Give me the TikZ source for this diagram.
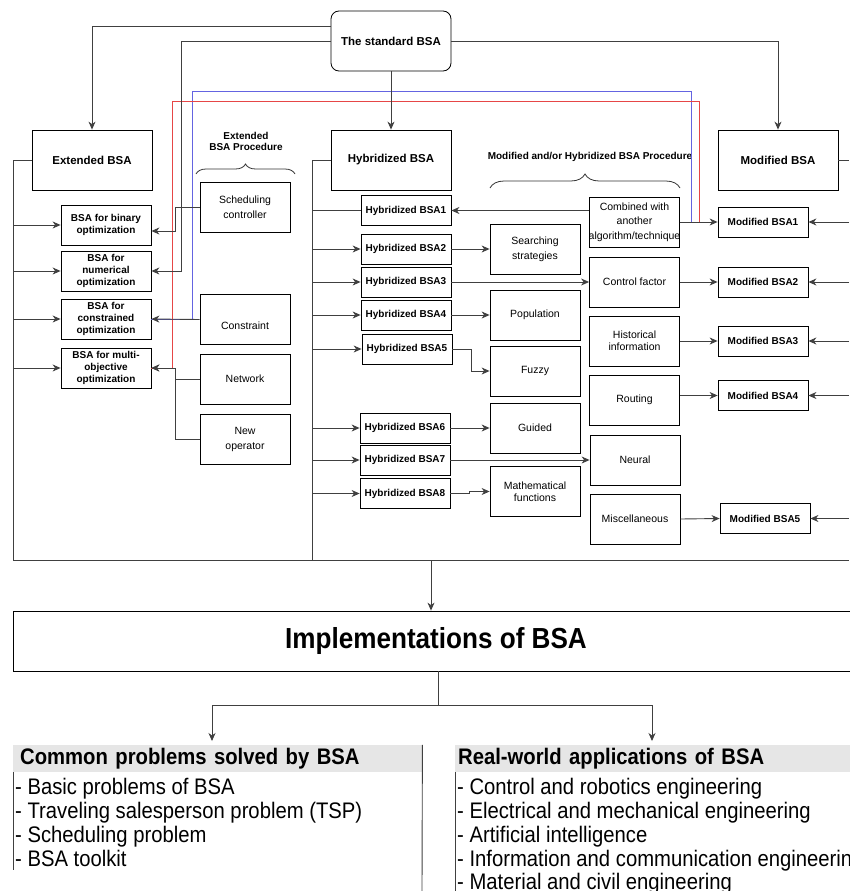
\documentclass[tikz,border=0pt]{standalone}
\usepackage{fontspec}
\setmainfont{Liberation Sans}
\newfontfamily\narrowfont[FakeStretch=0.9]{Liberation Sans}
\usetikzlibrary{arrows.meta,decorations.pathreplacing,calc}
\definecolor{blueC}{RGB}{100,100,225}
\definecolor{redC}{RGB}{230,70,70}
\definecolor{hdr}{RGB}{230,230,230}
\begin{document}
\begin{tikzpicture}[x=1pt,y=-1pt,
  bx/.style={draw=black, line width=0.8pt, inner sep=0pt, align=center},
  bigbox/.style={bx, minimum width=120pt, minimum height=60pt, font=\fontsize{11.5}{14}\selectfont\bfseries},
  sbox/.style={bx, minimum width=90pt, minimum height=30pt, font=\fontsize{10}{12}\selectfont\bfseries},
  ebox/.style={bx, minimum width=90pt, minimum height=40pt, font=\fontsize{10}{11.7}\selectfont\bfseries},
  pbox/.style={bx, minimum width=90pt, minimum height=50pt, font=\fontsize{10.5}{15}\selectfont},
  pboxt/.style={pbox, font=\fontsize{10.5}{12}\selectfont},
  con/.style={draw=black!75, line width=0.9pt},
  arr/.style={con, -{Stealth[length=8pt,width=7pt,inset=2.5pt]}},
  lbl/.style={font=\fontsize{10}{11}\selectfont\bfseries, align=center, inner sep=0pt},
  btxt/.style={font=\narrowfont\fontsize{22.5}{27}\selectfont, anchor=base west, inner sep=0pt},
  hbox/.style={fill=hdr, anchor=west, minimum height=27pt, inner ysep=0pt, align=left, font=\narrowfont\fontsize{22.5}{27}\selectfont\bfseries},
  brc/.style={draw=black!80, line width=0.8pt, decorate}
]
\useasboundingbox (0,0) rectangle (849,891);

% frame coordinates
\coordinate (LF) at (13,0);
\coordinate (MF) at (312,0);
\coordinate (RE) at (849,0);
\coordinate (BL) at (13,560);
\coordinate (BR) at (849,560);
\coordinate (MB) at (312,560);
\coordinate (FB) at (431,560);
\coordinate (bT) at (691,91);
\coordinate (rT) at (699,101);

% top level boxes
\node[bigbox, rounded corners=8pt] (std) at (391,41) {The standard BSA};
\node[bigbox] (ext) at (92,160) {Extended BSA};
\node[bigbox] (hyb) at (391,160) {Hybridized BSA};
\node[bigbox] (mod) at (778,160) {Modified BSA};

% extended BSA items
\node[ebox] (e1) at (106,225) {BSA for binary\\optimization};
\node[ebox] (e2) at (106,271) {BSA for\\numerical\\optimization};
\node[ebox] (e3) at (106,319) {BSA for\\constrained\\optimization};
\node[ebox] (e4) at (106,368) {BSA for multi-\\objective\\optimization};

% extended BSA procedure
\node[lbl] (extlbl) at (246,141) {Extended\\BSA Procedure};
\draw[brc, decoration={brace,amplitude=10pt}] (196,174) -- (295,174);
\node[pbox] (sc) at (245,207) {Scheduling\\controller};
\node[pbox] (cn) at (245,319.5) {};
\node[font=\fontsize{10.5}{12}\selectfont, inner sep=0pt] (cntxt) at (245,326) {Constraint};
\node[pbox] (nw) at (245,379) {Network};
\node[pbox] (no) at (245,439) {New\\operator};

% hybridized
\node[sbox] (h1) at (406,210.5) {Hybridized BSA1};
\node[sbox] (h2) at (406,249) {Hybridized BSA2};
\node[sbox] (h3) at (406,282) {Hybridized BSA3};
\node[sbox] (h4) at (406,315) {Hybridized BSA4};
\node[sbox] (h5) at (407,349) {Hybridized BSA5};
\node[sbox] (h6) at (405,428) {Hybridized BSA6};
\node[sbox] (h7) at (405,460) {Hybridized BSA7};
\node[sbox] (h8) at (405,493.5) {Hybridized BSA8};

% modified and/or hybridized procedure
\node[lbl] (mhlbl) at (590,157) {Modified and/or Hybridized BSA Procedure};
\draw[brc, decoration={brace,amplitude=14pt}] (490,188) -- (680,188);
\node[pbox] (ss) at (535,249) {Searching\\strategies};
\node[pbox] (pp) at (535,315) {Population};
\node[pbox] (fz) at (535,371) {Fuzzy};
\node[pbox] (gd) at (535,428) {Guided};
\node[pboxt] (mf) at (535,491.5) {Mathematical\\functions};

\node[pbox, font=\fontsize{10.5}{14.5}\selectfont] (cb) at (634.5,222) {Combined with\\another\\\makebox[0pt]{algorithm/technique}};
\node[pbox] (cf) at (634.5,282) {Control factor};
\node[pboxt] (hi) at (634.5,341) {Historical\\information};
\node[pbox] (ro) at (634.5,400) {Routing};
\node[pbox] (ne) at (635,460) {Neural};
\node[pbox] (mi) at (635,519) {Miscellaneous};

% modified
\node[sbox] (m1) at (763,222) {Modified BSA1};
\node[sbox] (m2) at (763,282) {Modified BSA2};
\node[sbox] (m3) at (763,341) {Modified BSA3};
\node[sbox] (m4) at (763,395.5) {Modified BSA4};
\node[sbox] (m5) at (765,518.5) {Modified BSA5};

% coloured connectors
\draw[blueC, line width=1pt] (cb.east) -| (bT) -| ($(e3.east)+(41,0)$) -- (e3.east);
\draw[redC, line width=1pt] (cb.east) -| (rT) -| ($(e4.east)+(21,0)$) -- (e4.east);

% frames
\draw[con] (ext.west) -| (BL) -- (BR);
\draw[con] (hyb.west) -| (MB);
\draw[con] (mod.east) -- (mod.east -| RE);

% standard BSA connectors
\draw[arr] ([yshift=15pt]std.west) -| (ext.north);
\draw[arr] (std.west) -- ++(-149,0) |- (e2.east);
\draw[arr] (std.south) -- (hyb.north);
\draw[arr] (std.east) -| (mod.north);

% extended
\draw[arr] (LF|-e1.west) -- (e1.west);
\draw[arr] (LF|-e2.west) -- (e2.west);
\draw[arr] (LF|-e3.west) -- (e3.west);
\draw[arr] (LF|-e4.west) -- (e4.west);
\draw[arr] (sc.west) -- ++(-24,0) |- ([yshift=-6pt]e1.east);
\draw[arr] (cn.west) -- (e3.east);
\draw[arr] (nw.west) -- ++(-24,0) |- (e4.east);
\draw[arr] (no.west) -- ++(-24,0) |- (e4.east);

% hybridized
\draw[con] (MF|-h1.west) -- (h1.west);
\draw[arr] (MF|-h2.west) -- (h2.west);
\draw[arr] (MF|-h3.west) -- (h3.west);
\draw[arr] (MF|-h4.west) -- (h4.west);
\draw[arr] (MF|-h5.west) -- (h5.west);
\draw[arr] (MF|-h6.west) -- (h6.west);
\draw[arr] (MF|-h7.west) -- (h7.west);
\draw[arr] (MF|-h8.west) -- (h8.west);
\draw[arr] (cb.west|-h1.east) -- (h1.east);
\draw[arr] (h2.east) -- (ss.west);
\draw[arr] (h3.east) -- (cf.west);
\draw[arr] (h4.east) -- (pp.west);
\draw[arr] (h5.east) -- ++(19,0) |- (fz.west);
\draw[arr] (h6.east) -- (gd.west);
\draw[arr] (h7.east) -- (ne.west);
\draw[arr] (h8.east) -- ++(19,0) |- (mf.west);

% modified
\draw[arr] (cb.east) -- (m1.west);
\draw[arr] (cf.east) -- (m2.west);
\draw[arr] (hi.east) -- (m3.west);
\draw[arr] (ro.east|-m4.west) -- (m4.west);
\draw[arr] (mi.east) -- (m5.west);
\draw[arr] (RE|-m1.east) -- (m1.east);
\draw[arr] (RE|-m2.east) -- (m2.east);
\draw[arr] (RE|-m3.east) -- (m3.east);
\draw[arr] (RE|-m4.east) -- (m4.east);
\draw[arr] (RE|-m5.east) -- (m5.east);

% implementations
\node[bx, minimum width=846pt, minimum height=60pt, font=\narrowfont\fontsize{29}{34}\selectfont\bfseries] (impl) at (436,641) {Implementations of BSA};
\draw[arr] (FB) -- (FB|-impl.north);
\coordinate (TJ) at (438,705);
\coordinate (LA) at (212,741);
\coordinate (RA) at (652,741);
\draw[con] (impl.south-|TJ) -- (TJ);
\draw[arr] (TJ) -| (LA);
\draw[arr] (TJ) -| (RA);

% panels
\node[hbox, minimum width=409pt, text width=395pt, inner xsep=7pt] (lh) at (13,758.5) {Common problems solved by BSA};
\node[hbox, minimum width=404pt, text width=398pt, inner xsep=3pt] (rh) at (455,758.5) {Real-world applications of BSA};
\coordinate (LV) at (422,891);
\draw[con] (lh.north east) -- (LV);
\draw[con] (lh.south west) -- ++(0,98);
\draw[con] (rh.south west) -- ++(0,119);

\node[btxt] (l1) at (15,794) {- Basic problems of BSA};
\node[btxt] (l2) at (15,818) {- Traveling salesperson problem (TSP)};
\node[btxt] (l3) at (15,842) {- Scheduling problem};
\node[btxt] (l4) at (15,866) {- BSA toolkit};

\node[btxt] (r1) at (457,794) {- Control and robotics engineering};
\node[btxt] (r2) at (457,818) {- Electrical and mechanical engineering};
\node[btxt] (r3) at (457,842) {- Artificial intelligence};
\node[btxt] (r4) at (457,866) {- Information and communication engineering};
\node[btxt] (r5) at (457,889.5) {- Material and civil engineering};
\end{tikzpicture}
\end{document}
